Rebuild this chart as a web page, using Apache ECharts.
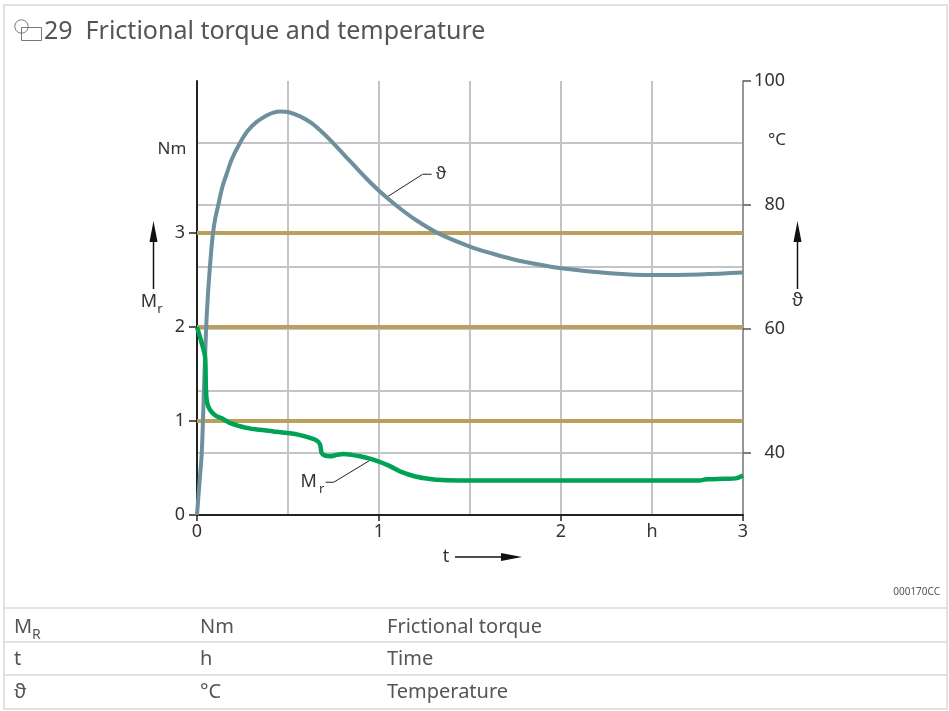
<!DOCTYPE html>
<html>
<head>
<meta charset="utf-8">
<script src="https://cdn.jsdelivr.net/npm/echarts@6/dist/echarts.min.js"></script>
<style>
  html, body { margin: 0; padding: 0; background: #fff; }
  #chart { width: 949px; height: 711px; }
</style>
</head>
<body>
<div id="chart"></div>
<script>
// temperature curve (right axis, °C) over time (h)
const tempTime = [0, 0.013, 0.026, 0.038, 0.05, 0.06, 0.071, 0.086, 0.1, 0.117, 0.14, 0.163, 0.19, 0.236, 0.28, 0.328, 0.38, 0.42, 0.456, 0.5, 0.566, 0.63, 0.7, 0.77, 0.84, 0.92, 1.0, 1.1, 1.207, 1.335, 1.5, 1.63, 1.757, 1.88, 2.0, 2.27, 2.507, 2.76, 3.0];
const tempValues = [30, 35, 40, 50, 60, 65.5, 70, 75, 77.8, 80, 83, 85, 87.3, 90, 92, 93.4, 94.4, 94.9, 95.1, 95.0, 94.3, 93.2, 91.4, 89.3, 87.1, 84.6, 82.3, 79.8, 77.5, 75.3, 73.3, 72.1, 71.1, 70.4, 69.8, 69.0, 68.7, 68.8, 69.1];

// frictional torque curve (left axis, Nm)
const torqueTime = [0, 0.026, 0.044, 0.047, 0.049, 0.055, 0.071, 0.1, 0.145, 0.18, 0.236, 0.28, 0.33, 0.38, 0.42, 0.46, 0.511, 0.566, 0.621, 0.66, 0.676, 0.685, 0.7, 0.73, 0.77, 0.803, 0.85, 0.896, 0.95, 0.996, 1.06, 1.115, 1.2, 1.28, 1.35, 1.445, 1.8, 2.2, 2.6, 2.76, 2.8, 2.9, 2.96, 3.0];
const torqueValues = [2.0, 1.83, 1.69, 1.55, 1.35, 1.2, 1.12, 1.06, 1.02, 0.98, 0.945, 0.925, 0.91, 0.9, 0.89, 0.88, 0.87, 0.85, 0.82, 0.79, 0.75, 0.66, 0.635, 0.625, 0.64, 0.65, 0.64, 0.625, 0.6, 0.57, 0.52, 0.465, 0.41, 0.384, 0.372, 0.368, 0.366, 0.366, 0.366, 0.368, 0.38, 0.385, 0.39, 0.42];

const torqueRefLines = [1, 2, 3];
const torqueTicks = [0, 1, 2, 3];
const tempTicks = [40, 60, 80, 100];
const timeTicks = [0, 1, 2, 3];
const timeLabels = [0, 1, 2, 2.5, 3];

const legendRows = [
  ['M', 'R', 'Nm', 'Frictional torque'],
  ['t', '', 'h', 'Time'],
  ['ϑ', '', '°C', 'Temperature']
];

const FONT = '"Noto Sans", "Open Sans", sans-serif';
const GRID = '#c4c4c8';
const GOLD = '#b9a15b';

const chart = echarts.init(document.getElementById('chart'));

const zip = (xs, ys) => xs.map((x, i) => [x, ys[i]]);

const option = {
  animation: false,
  grid: { left: 197, right: 206, top: 81, bottom: 196 },
  xAxis: [
    {
      type: 'value', min: 0, max: 3, interval: 0.5, position: 'bottom',
      axisLine: { show: true, onZero: false, lineStyle: { color: '#222', width: 2 } },
      axisTick: { show: false },
      axisLabel: { show: false },
      splitLine: { show: true, lineStyle: { color: GRID, width: 2 } }
    },
    {
      type: 'value', min: 0, max: 3, interval: 0.5, position: 'bottom',
      axisLine: { show: false, onZero: false },
      axisTick: { show: true, customValues: timeTicks, length: 6, lineStyle: { color: '#222', width: 1.5 } },
      axisLabel: {
        customValues: timeLabels, margin: 8, color: '#333', fontSize: 18, fontFamily: FONT,
        formatter: v => (v === 2.5 ? 'h' : String(v))
      },
      splitLine: { show: false }
    }
  ],
  yAxis: [
    {
      type: 'value', min: 0, max: 4.62, position: 'left',
      axisLine: { show: true, onZero: false, lineStyle: { color: '#222', width: 2 } },
      axisTick: { show: true, customValues: torqueTicks, length: 8, lineStyle: { color: '#222', width: 1.5 } },
      axisLabel: { customValues: torqueTicks, margin: 12, color: '#333', fontSize: 18, fontFamily: FONT },
      splitLine: { show: false }
    },
    {
      type: 'value', min: 30, max: 100, interval: 10, position: 'right',
      axisLine: { show: true, onZero: false, lineStyle: { color: '#888', width: 1.5 } },
      axisTick: { show: false },
      axisLabel: { show: false },
      splitLine: { show: true, showMaxLine: false, showMinLine: false, lineStyle: { color: GRID, width: 2 } }
    },
    {
      type: 'value', min: 30, max: 100, interval: 10, position: 'right',
      axisLine: { show: false, onZero: false },
      axisTick: { show: true, customValues: tempTicks, length: 8, lineStyle: { color: '#555', width: 1.5 } },
      axisLabel: { customValues: tempTicks, margin: 42, align: 'right', color: '#333', fontSize: 18, fontFamily: FONT },
      splitLine: { show: false }
    }
  ],
  series: [
    {
      name: 'ϑ', type: 'line', xAxisIndex: 0, yAxisIndex: 1,
      data: zip(tempTime, tempValues),
      showSymbol: false, smooth: 0.35, z: 3,
      lineStyle: { color: '#6e8f9c', width: 4 }
    },
    {
      name: 'Mr', type: 'line', xAxisIndex: 0, yAxisIndex: 0,
      data: zip(torqueTime, torqueValues),
      showSymbol: false, smooth: 0.35, z: 4,
      lineStyle: { color: '#00a356', width: 4.5 },
      markLine: {
        silent: true, z: 1, symbol: ['none', 'none'], label: { show: false },
        lineStyle: { color: GOLD, width: 4, type: 'solid' },
        data: torqueRefLines.map(v => ({ yAxis: v }))
      }
    }
  ]
};

chart.setOption(option);

// helpers for decorations
function interp(xs, ys, x) {
  for (let i = 1; i < xs.length; i++) {
    if (x <= xs[i]) {
      const f = (x - xs[i - 1]) / (xs[i] - xs[i - 1]);
      return ys[i - 1] + f * (ys[i] - ys[i - 1]);
    }
  }
  return ys[ys.length - 1];
}
const px = (t, v, yi) => chart.convertToPixel({ xAxisIndex: 0, yAxisIndex: yi }, [t, v]);

const txt = (x, y, text, size, color, align, vAlign) => ({
  type: 'text', x: x, y: y, silent: true,
  style: { text: text, fontSize: size, fontFamily: FONT, fill: color, align: align || 'left', verticalAlign: vAlign || 'middle' }
});
const seg = (x1, y1, x2, y2, color, w) => ({
  type: 'line', silent: true,
  shape: { x1: x1, y1: y1, x2: x2, y2: y2 },
  style: { stroke: color, lineWidth: w }
});
const tri = (pts, color) => ({ type: 'polygon', silent: true, shape: { points: pts }, style: { fill: color } });

const g = [];

// frame
g.push({ type: 'rect', silent: true, shape: { x: 4, y: 5, width: 943, height: 704 }, style: { fill: 'none', stroke: '#d9d9d9', lineWidth: 1.5 } });

// title with figure icon
g.push({ type: 'circle', silent: true, shape: { cx: 21.5, cy: 26.5, r: 6.7 }, style: { fill: 'none', stroke: '#777', lineWidth: 1 } });
g.push({ type: 'rect', silent: true, shape: { x: 21.5, y: 27.5, width: 20, height: 13 }, style: { fill: 'none', stroke: '#777', lineWidth: 1 } });
g.push(txt(44, 32, '29  Frictional torque and temperature', 25, '#555'));

// axis captions
g.push(txt(172, 149, 'Nm', 17, '#333', 'center'));
g.push(seg(153.5, 238, 153.5, 289, '#111', 1.5));
g.push(tri([[153.5, 221], [149.5, 242], [157.5, 242]], '#111'));
g.push(txt(149, 302, 'M', 18, '#333', 'center'));
g.push(txt(160, 309, 'r', 13, '#333', 'center'));

g.push(txt(777, 140, '°C', 17, '#333', 'center'));
g.push(seg(797.5, 238, 797.5, 289, '#111', 1.5));
g.push(tri([[797.5, 221], [793.5, 242], [801.5, 242]], '#111'));
g.push(txt(797.5, 301, 'ϑ', 18, '#333', 'center'));

g.push(txt(446, 557, 't', 18, '#333', 'center'));
g.push(seg(455, 557, 505, 557, '#111', 1.5));
g.push(tri([[522, 557], [501, 553], [501, 561]], '#111'));

// curve labels with leaders
const mA = px(0.96, interp(torqueTime, torqueValues, 0.96), 0);
const mE = [mA[0] - 38, mA[1] + 23];
g.push(seg(mA[0], mA[1], mE[0], mE[1], '#222', 1));
g.push(seg(mE[0], mE[1], mE[0] - 8, mE[1], '#222', 1));
g.push(txt(mE[0] - 25, mE[1], 'M', 18, '#333', 'center'));
g.push(txt(mE[0] - 12, mE[1] + 7, 'r', 13, '#333', 'center'));

const tA = px(1.042, interp(tempTime, tempValues, 1.042), 1);
const tE = [tA[0] + 36, tA[1] - 23];
g.push(seg(tA[0], tA[1], tE[0], tE[1], '#222', 1));
g.push(seg(tE[0], tE[1], tE[0] + 9, tE[1], '#222', 1));
g.push(txt(tE[0] + 13, tE[1], 'ϑ', 17, '#333', 'left'));

// code
g.push(txt(940, 592, '000170CC', 10, '#555', 'right'));

// legend table
const rowY = [627, 659, 692];
const lineY = [608, 642, 675];
lineY.forEach(y => g.push(seg(4, y, 947, y, '#d9d9d9', 1.5)));
legendRows.forEach((r, i) => {
  g.push(txt(14, rowY[i], r[0], 20, '#555', 'left'));
  if (r[1]) g.push(txt(32, rowY[i] + 8, r[1], 14, '#555', 'left'));
  g.push(txt(200, rowY[i], r[2], 20, '#555', 'left'));
  g.push(txt(387, rowY[i], r[3], 20, '#555', 'left'));
});

chart.setOption({ graphic: { elements: g } });
</script>
</body>
</html>
